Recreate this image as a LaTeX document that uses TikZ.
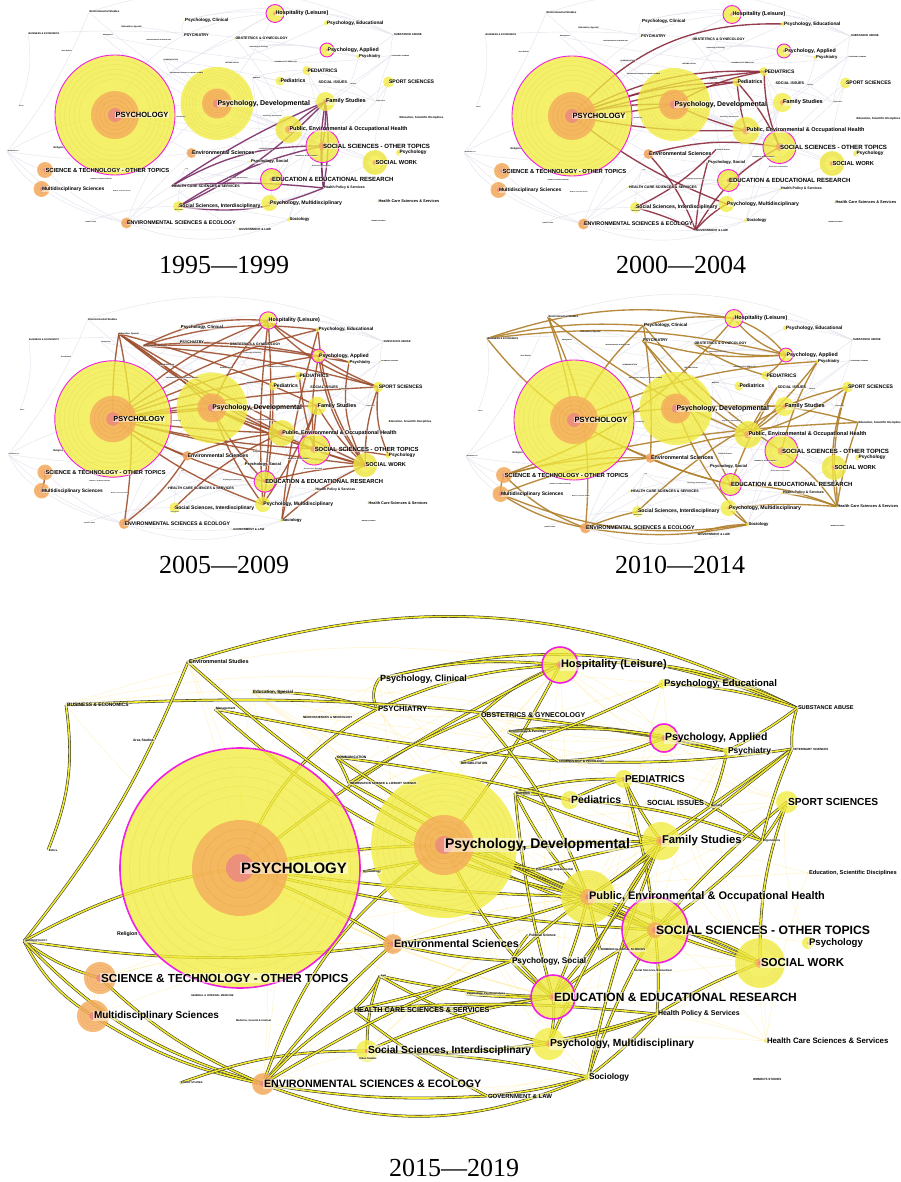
\documentclass[tikz,border=0pt]{standalone}
\usepackage{fontspec}
\setmainfont{Liberation Serif}
\newfontfamily\labfont{Liberation Sans}
\definecolor{ny}{HTML}{F2EC40}
\definecolor{nyr}{HTML}{E2D348}
\definecolor{no}{HTML}{F5AD5C}
\definecolor{nor}{HTML}{E9955A}
\definecolor{np}{HTML}{EC8C80}
\definecolor{mag}{HTML}{F020E0}
\definecolor{edgey}{HTML}{F2EA2E}
\definecolor{eA}{HTML}{7A2C66}
\definecolor{eB}{HTML}{8A2A3C}
\definecolor{eC}{HTML}{9E4F2E}
\definecolor{eD}{HTML}{B07F2A}
\definecolor{fsm}{HTML}{E6E4EE}
\tikzset{
  lab/.style={inner sep=0.8pt, fill=white, fill opacity=0.5, text opacity=1, text=black},
  yrlab/.style={font=\fontsize{26}{26}\selectfont, inner sep=0pt},
  bigedge/.style={draw=black!80, line width=0.55pt, double=edgey, double distance=1.6pt},
  faintbig/.style={draw=orange!40!yellow, opacity=0.16, line width=0.7pt},
  faintsmall/.style={draw=fsm, line width=0.45pt},
  sedge/.style={line width=1.35pt, opacity=0.9}
}
\newcommand\Ncoord[9]{\coordinate (\PN-#1) at (#2,#3);}
\newcommand\Nbub[9]{%
  \ifdim #4pt>0pt
    \fill[ny,fill opacity=.78] (\PN-#1) circle (#4);
    \ifdim #4pt>20pt
      \foreach \rr in {0.92,0.84,0.76,0.68,0.6}{\draw[nyr,line width=.3pt,opacity=.5] (\PN-#1) circle ({#4*\rr});}
    \fi
  \fi
  \ifdim #5pt>0pt
    \fill[no,fill opacity=.82] (\PN-#1) circle (#5);
    \ifdim #5pt>8pt
      \foreach \rr in {0.8,0.62,0.45}{\draw[nor,line width=.3pt,opacity=.6] (\PN-#1) circle ({#5*\rr});}
    \fi
  \fi
  \ifdim #6pt>0pt \fill[np,fill opacity=.9] (\PN-#1) circle (#6); \fi
  \ifnum #7=1 \draw[mag,line width=\magw] (\PN-#1) circle (#4); \fi
}
\newcommand\Nlab[9]{\node[lab, anchor=west, font=\labfont\bfseries\fontsize{#9}{#9}\selectfont] (\PN-#1-t) at (\PN-#1) {#8};}
\newcommand\EE[3]{\draw[cur] (\PN-#1) to[bend left=#3] (\PN-#2);}
\newcommand\nodedata{%
\ND{psy}{240}{868}{120}{48}{14}{1}{PSYCHOLOGY}{15}%
\ND{dev}{444}{845}{73}{30}{9}{0}{Psychology, Developmental}{14}%
\ND{hosp}{560}{665}{18}{4}{2}{1}{Hospitality (Leisure)}{11}%
\ND{peduc}{663}{684}{5}{0}{0}{0}{Psychology, Educational}{9.6}%
\ND{subst}{797}{708}{1}{0}{0}{0}{SUBSTANCE ABUSE}{5.6}%
\ND{papp}{664}{738}{14}{3}{2}{1}{Psychology, Applied}{10.5}%
\ND{psyt}{727}{751}{4}{0}{0}{0}{Psychiatry}{8.5}%
\ND{vet}{792}{749}{1}{0}{0}{0}{VETERINARY SCIENCES}{3}%
\ND{PED}{624}{779}{9}{2}{1}{0}{PEDIATRICS}{10}%
\ND{ped}{570}{800}{9}{2}{1}{0}{Pediatrics}{10.5}%
\ND{socis}{646}{803}{1}{0}{0}{0}{SOCIAL ISSUES}{7.4}%
\ND{nursm}{710}{806}{1}{0}{0}{0}{Nursing}{3}%
\ND{sport}{787}{802}{11}{0}{1}{0}{SPORT SCIENCES}{10.2}%
\ND{fam}{661}{841}{19}{5}{2}{0}{Family Studies}{11.3}%
\ND{ergo}{762}{841}{1}{0}{0}{0}{Ergonomics}{3}%
\ND{edsci}{808}{873}{1}{0}{0}{0}{Education, Scientific Disciplines}{5.7}%
\ND{pub}{588}{897}{27}{8}{3}{0}{Public, Environmental \& Occupational Health}{11}%
\ND{soc}{655}{930}{33}{8}{3}{1}{SOCIAL SCIENCES - OTHER TOPICS}{12.2}%
\ND{psyc}{808}{943}{6}{0}{1}{0}{Psychology}{9.6}%
\ND{sw}{760}{963}{25}{5}{2}{0}{SOCIAL WORK}{11.5}%
\ND{edu}{553}{997}{22}{4}{2}{1}{EDUCATION \& EDUCATIONAL RESEARCH}{12}%
\ND{hps}{657}{1014}{2}{0}{0}{0}{Health Policy \& Services}{7}%
\ND{hcs}{766}{1041}{2}{0}{0}{0}{Health Care Sciences \& Services}{7.8}%
\ND{pmul}{549}{1044}{16}{3}{1}{0}{Psychology, Multidisciplinary}{10.3}%
\ND{socio}{588}{1077}{4}{0}{0}{0}{Sociology}{8.4}%
\ND{women}{752}{1079}{0}{0}{0}{0}{WOMEN'S STUDIES}{3}%
\ND{gov}{487}{1096}{1}{0}{0}{0}{GOVERNMENT \& LAW}{6}%
\ND{ese}{263}{1084}{0}{11}{3}{0}{ENVIRONMENTAL SCIENCES \& ECOLOGY}{10.7}%
\ND{ssi}{367}{1051}{11}{0}{2}{0}{Social Sciences, Interdisciplinary}{10.3}%
\ND{urban}{358}{1059}{0}{0}{0}{0}{Urban Studies}{2.6}%
\ND{hcss}{353}{1010}{2}{0}{0}{0}{HEALTH CARE SCIENCES \& SERVICES}{7.2}%
\ND{law}{380}{976}{1}{0}{0}{0}{Law}{2.6}%
\ND{psoc}{511}{961}{2}{0}{0}{0}{Psychology, Social}{8.2}%
\ND{pol}{528}{935}{0}{0}{0}{0}{Political Science}{3.4}%
\ND{envs}{393}{944}{0}{10}{3}{0}{Environmental Sciences}{10.8}%
\ND{pexp}{535}{870}{0}{0}{0}{0}{Psychology, Experimental}{3}%
\ND{bss}{600}{950}{0}{0}{0}{0}{BIOMEDICAL SOCIAL SCIENCES}{2.8}%
\ND{ssb}{633}{971}{0}{0}{0}{0}{Social Sciences, Biomedical}{2.8}%
\ND{rap}{466}{994}{0}{0}{0}{0}{Psychology, Psychoanalysis}{2.8}%
\ND{sci}{100}{978}{0}{16}{4}{0}{SCIENCE \& TECHNOLOGY - OTHER TOPICS}{11.7}%
\ND{multi}{93}{1016}{0}{16}{4}{0}{Multidisciplinary Sciences}{10}%
\ND{gim}{190}{996}{0}{0}{0}{0}{GENERAL \& INTERNAL MEDICINE}{2.6}%
\ND{mgi}{235}{1021}{0}{0}{0}{0}{Medicine, General \& Internal}{2.6}%
\ND{relig}{116}{934}{0}{0}{0}{0}{Religion}{5.2}%
\ND{anthro}{24}{941}{0}{0}{0}{0}{ANTHROPOLOGY}{2.6}%
\ND{ethnic}{180}{1083}{0}{0}{0}{0}{ETHNIC STUDIES}{2.6}%
\ND{envst}{188}{662}{0}{0}{0}{0}{Environmental Studies}{5.5}%
\ND{bus}{66}{705}{0}{0}{0}{0}{BUSINESS \& ECONOMICS}{4.9}%
\ND{area}{132}{740}{0}{0}{0}{0}{Area Studies}{3.4}%
\ND{ethics}{48}{850}{0}{0}{0}{0}{Ethics}{2.8}%
\ND{edsp}{252}{692}{0}{0}{0}{0}{Education, Special}{4.5}%
\ND{mgmt}{215}{709}{0}{0}{0}{0}{Management}{3.2}%
\ND{neuro}{302}{717}{0}{0}{0}{0}{NEUROSCIENCES \& NEUROLOGY}{3}%
\ND{PSYT}{377}{709}{1}{0}{0}{0}{PSYCHIATRY}{7.8}%
\ND{pclin}{379}{679}{1}{0}{0}{0}{Psychology, Clinical}{9}%
\ND{obs}{480}{715}{2}{0}{0}{0}{OBSTETRICS \& GYNECOLOGY}{7}%
\ND{crim}{508}{732}{0}{0}{0}{0}{Criminology \& Penology}{3.2}%
\ND{CRIM}{558}{761}{0}{0}{0}{0}{CRIMINOLOGY \& PENOLOGY}{3.2}%
\ND{rehab}{460}{763}{0}{0}{0}{0}{REHABILITATION}{3.2}%
\ND{comm}{336}{757}{0}{0}{0}{0}{COMMUNICATION}{3.4}%
\ND{isls}{349}{783}{0}{0}{0}{0}{INFORMATION SCIENCE \& LIBRARY SCIENCE}{3}%
\ND{NURS}{515}{793}{0}{0}{0}{0}{NURSING}{3}%
\ND{geron}{362}{872}{0}{0}{0}{0}{Gerontology}{3}%
}
\newcommand\edgesBig{%
\EE{envst}{subst}{22}\EE{pclin}{subst}{18}\EE{hosp}{subst}{15}\EE{peduc}{subst}{8}%
\EE{pclin}{hosp}{10}\EE{PSYT}{hosp}{10}\EE{obs}{hosp}{10}\EE{hosp}{dev}{5}\EE{psy}{hosp}{6}%
\EE{psy}{PSYT}{20}\EE{PSYT}{pclin}{30}\EE{edsp}{PSYT}{8}\EE{bus}{papp}{6}\EE{mgmt}{CRIM}{-3}%
\EE{bus}{ethics}{15}\EE{envst}{anthro}{8}\EE{envst}{soc}{-12}\EE{mgmt}{pub}{-15}%
\EE{anthro}{sci}{-10}\EE{anthro}{multi}{-15}\EE{anthro}{envs}{-8}\EE{anthro}{ese}{-15}\EE{anthro}{psy}{10}%
\EE{sci}{ese}{-10}\EE{multi}{ese}{-10}\EE{ese}{socio}{-22}\EE{ese}{gov}{-6}\EE{ethnic}{ssi}{10}%
\EE{ese}{dev}{18}\EE{ese}{envs}{5}\EE{ese}{hcss}{8}\EE{law}{hcss}{10}\EE{law}{ssi}{-10}\EE{law}{edu}{-5}\EE{law}{pmul}{-8}%
\EE{psy}{dev}{5}\EE{geron}{fam}{5}\EE{psy}{soc}{-5}\EE{psy}{pub}{-3}\EE{dev}{soc}{5}\EE{dev}{sw}{3}\EE{dev}{edu}{-10}%
\EE{NURS}{ped}{5}\EE{NURS}{PED}{8}\EE{NURS}{fam}{-5}\EE{NURS}{pub}{-8}\EE{NURS}{edu}{-5}%
\EE{ped}{PED}{5}\EE{PED}{fam}{-5}\EE{PED}{soc}{5}\EE{PED}{ergo}{15}\EE{ped}{ergo}{8}%
\EE{fam}{vet}{0}\EE{pub}{vet}{-3}\EE{psyt}{nursm}{5}\EE{vet}{subst}{10}\EE{subst}{psyt}{5}\EE{psyt}{papp}{5}%
\EE{papp}{crim}{-10}\EE{papp}{CRIM}{10}\EE{crim}{psyt}{10}\EE{CRIM}{vet}{-5}\EE{crim}{CRIM}{5}%
\EE{obs}{pub}{10}\EE{obs}{isls}{-5}\EE{peduc}{rehab}{5}\EE{comm}{isls}{5}\EE{comm}{ped}{3}\EE{comm}{pub}{-5}\EE{isls}{soc}{-3}%
\EE{soc}{sw}{15}\EE{sw}{hps}{-5}\EE{sw}{pub}{5}\EE{soc}{hps}{5}\EE{soc}{edu}{-5}%
\EE{pub}{bss}{0}\EE{pub}{soc}{5}\EE{pub}{edu}{5}\EE{pub}{psoc}{-5}\EE{pub}{envs}{5}%
\EE{edu}{psoc}{5}\EE{edu}{hcss}{5}\EE{edu}{rap}{3}\EE{edu}{pmul}{10}\EE{edu}{ssi}{-8}%
\EE{hps}{socio}{5}\EE{hps}{pmul}{5}\EE{hps}{hcss}{-5}\EE{socio}{gov}{5}\EE{socio}{ssi}{-5}\EE{socio}{soc}{5}%
\EE{gov}{hcss}{5}\EE{ssi}{pmul}{-5}\EE{ssi}{hps}{-10}\EE{psoc}{pol}{5}\EE{psoc}{hcss}{5}\EE{psoc}{ese}{-5}%
\EE{sport}{ergo}{5}\EE{sport}{sw}{-10}\EE{sport}{soc}{-5}\EE{vet}{ergo}{-5}\EE{ergo}{soc}{5}%
\EE{fam}{edu}{5}\EE{fam}{pmul}{-5}\EE{fam}{socio}{-5}\EE{pexp}{fam}{3}\EE{pexp}{dev}{3}\EE{fam}{pub}{5}%
\EE{envs}{psy}{-5}\EE{envs}{psoc}{-5}%
}
\newcommand\edgesA{%
\EE{hcss}{fam}{5}\EE{hcss}{soc}{15}\EE{hcss}{hps}{5}\EE{ssi}{fam}{-10}\EE{ssi}{hps}{-15}%
\EE{fam}{hps}{8}\EE{fam}{hps}{-8}\EE{fam}{soc}{5}\EE{fam}{pub}{-5}\EE{soc}{hps}{-5}\EE{ssi}{soc}{10}%
}
\newcommand\edgesB{%
\EE{psy}{peduc}{25}\EE{psy}{PED}{15}\EE{psy}{PED}{8}\EE{psy}{ped}{10}\EE{psy}{ped}{3}%
\EE{psy}{dev}{8}\EE{psy}{dev}{-4}\EE{psy}{pub}{-6}\EE{psy}{pmul}{-8}\EE{dev}{PED}{10}\EE{dev}{pub}{-5}%
\EE{PED}{soc}{-10}\EE{ped}{pub}{-5}\EE{ped}{soc}{8}\EE{envs}{soc}{12}\EE{gov}{envs}{-10}%
\EE{gov}{psoc}{5}\EE{gov}{ssi}{-5}\EE{gov}{soc}{15}\EE{gov}{pmul}{8}\EE{ssi}{pol}{-10}%
}
\newcommand\edgesC{%
\EE{edsp}{psy}{-5}\EE{edsp}{ese}{10}\EE{edsp}{dev}{5}\EE{edsp}{pub}{-5}\EE{edsp}{soc}{-8}\EE{edsp}{fam}{5}\EE{edsp}{sw}{-3}%
\EE{neuro}{hosp}{15}\EE{neuro}{peduc}{12}\EE{neuro}{papp}{8}\EE{neuro}{sport}{5}\EE{neuro}{psyt}{6}%
\EE{psy}{hosp}{12}\EE{psy}{peduc}{10}\EE{psy}{papp}{8}\EE{psy}{PED}{6}\EE{psy}{sport}{4}\EE{psy}{fam}{3}%
\EE{psy}{dev}{3}\EE{psy}{pub}{-3}\EE{psy}{soc}{-5}\EE{psy}{sw}{-4}\EE{psy}{edu}{-8}\EE{psy}{pmul}{-10}\EE{psy}{envs}{-5}%
\EE{dev}{sw}{-5}\EE{dev}{soc}{-5}\EE{dev}{pub}{-3}\EE{dev}{edu}{-8}\EE{dev}{pmul}{-8}\EE{dev}{hosp}{10}%
\EE{hosp}{edu}{5}\EE{hosp}{pmul}{-5}\EE{hosp}{sport}{-15}\EE{hosp}{psyt}{-10}%
\EE{papp}{sw}{-15}\EE{papp}{soc}{-8}\EE{papp}{sport}{-5}\EE{psyt}{sw}{-20}\EE{peduc}{socio}{-5}\EE{peduc}{sw}{-15}%
\EE{PED}{soc}{-5}\EE{ped}{pmul}{5}\EE{fam}{soc}{-5}\EE{fam}{pmul}{5}\EE{fam}{socio}{-5}\EE{fam}{sw}{-8}%
\EE{sport}{sw}{-10}\EE{sport}{psyc}{-15}\EE{soc}{psyc}{5}\EE{soc}{sw}{-5}\EE{ese}{envs}{-10}%
\EE{envs}{pub}{8}\EE{ssi}{pub}{10}\EE{socio}{sw}{8}\EE{sci}{multi}{8}\EE{edu}{sw}{5}%
}
\newcommand\edgesD{%
\EE{bus}{psy}{-8}\EE{bus}{papp}{10}\EE{bus}{hosp}{14}\EE{bus}{pclin}{8}\EE{envst}{ese}{15}\EE{envst}{pub}{-8}\EE{envst}{psy}{5}%
\EE{pclin}{hosp}{10}\EE{pclin}{psy}{-10}\EE{pclin}{soc}{-8}\EE{pclin}{envs}{5}\EE{PSYT}{pub}{-8}\EE{PSYT}{papp}{-10}\EE{PSYT}{edu}{5}%
\EE{obs}{papp}{-10}\EE{obs}{PED}{-8}\EE{hosp}{papp}{-15}\EE{hosp}{papp}{15}\EE{hosp}{sci}{15}%
\EE{psy}{edu}{-8}\EE{psy}{envs}{-5}\EE{psy}{fam}{5}\EE{psy}{psyt}{10}\EE{dev}{fam}{3}\EE{dev}{socio}{-10}%
\EE{fam}{sport}{5}\EE{fam}{ssi}{-8}\EE{fam}{pub}{5}\EE{fam}{edsci}{3}\EE{sport}{hcs}{-15}\EE{sport}{sw}{-8}\EE{sport}{pub}{10}%
\EE{edsci}{hcs}{-5}\EE{edsci}{sci}{-6}\EE{sw}{hcs}{5}\EE{soc}{hcs}{10}\EE{edu}{hcs}{10}\EE{pmul}{hcs}{5}\EE{hps}{hcs}{5}%
\EE{psyt}{pub}{5}\EE{psyt}{soc}{-8}\EE{multi}{ese}{-10}\EE{multi}{sci}{10}\EE{multi}{envs}{8}\EE{sci}{envs}{8}\EE{sci}{ese}{-12}%
\EE{ese}{socio}{-10}\EE{ese}{ssi}{5}\EE{gov}{socio}{10}\EE{pmul}{socio}{-5}\EE{edu}{envs}{5}\EE{envs}{pub}{8}%
\EE{socis}{pub}{-5}\EE{socis}{edu}{-5}\EE{multi}{socio}{-15}\EE{PED}{papp}{-10}%
}
\newcommand\smallpanel[3]{% name, colour, edge list
  \def\PN{#1}\def\magw{0.9pt}%
  \let\ND\Ncoord \nodedata
  \tikzset{cur/.style=faintsmall}\edgesBig
  \tikzset{cur/.style={sedge,draw=#2}}#3%
  \let\ND\Nbub \nodedata
  \let\ND\Nlab \nodedata
}
\begin{document}
\begin{tikzpicture}[x=1pt,y=-1pt]
\fill[white] (0,0) rectangle (901,1182);
\useasboundingbox (0,0) rectangle (901,1182);
% large panel 2015-2019
\begin{scope}
  \def\PN{g}\def\magw{1.6pt}
  \let\ND\Ncoord \nodedata
  \tikzset{cur/.style=faintbig}\edgesC\edgesD
  \tikzset{cur/.style=bigedge}\edgesBig
  \let\ND\Nbub \nodedata
  \let\ND\Nlab \nodedata
\end{scope}
\begin{scope}[shift={(-5,-319)},scale=0.5,transform shape]
  \smallpanel{a}{eA}{\edgesA}
\end{scope}
\begin{scope}[shift={(452,-318)},scale=0.5,transform shape]
  \smallpanel{b}{eB}{\edgesB}
\end{scope}
\begin{scope}[shift={(-3.4,-2)},scale=0.485,transform shape]
  \smallpanel{c}{eC}{\edgesC}
\end{scope}
\begin{scope}[shift={(454,-14)},scale=0.5,transform shape]
  \smallpanel{d}{eD}{\edgesD}
\end{scope}
\node[yrlab] (y1) at (224,265) {1995—1999};
\node[yrlab] (y2) at (681,265) {2000—2004};
\node[yrlab] (y3) at (224,565) {2005—2009};
\node[yrlab] (y4) at (680,565) {2010—2014};
\node[yrlab] (y5) at (454,1168) {2015—2019};
\end{tikzpicture}
\end{document}
